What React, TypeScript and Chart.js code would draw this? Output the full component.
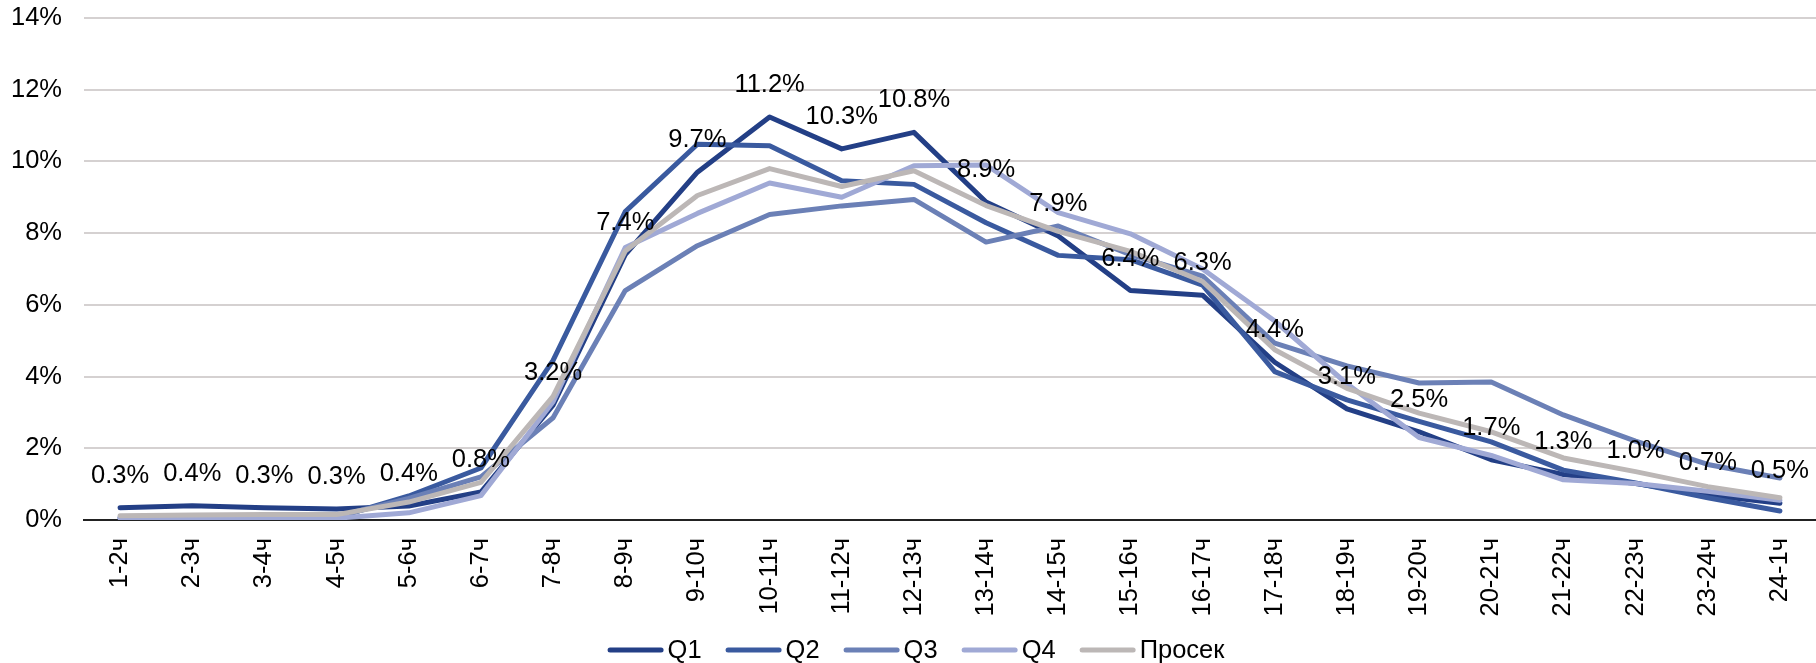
import React, { useEffect, useRef } from 'react';
import { Chart, registerables } from 'chart.js';

Chart.register(...registerables);

const categories = [
  '1-2ч', '2-3ч', '3-4ч', '4-5ч', '5-6ч', '6-7ч', '7-8ч', '8-9ч', '9-10ч', '10-11ч', '11-12ч', '12-13ч',
  '13-14ч', '14-15ч', '15-16ч', '16-17ч', '17-18ч', '18-19ч', '19-20ч', '20-21ч', '21-22ч', '22-23ч', '23-24ч', '24-1ч',
];

const seriesNames = ['Q1', 'Q2', 'Q3', 'Q4', 'Просек'];

const q1 = [0.34, 0.4, 0.34, 0.31, 0.39, 0.78, 3.2, 7.4, 9.7, 11.24, 10.35, 10.81, 8.87, 7.92, 6.4, 6.27, 4.4, 3.1, 2.46, 1.68, 1.27, 1.02, 0.7, 0.47];
const q2 = [0.05, 0.05, 0.08, 0.07, 0.67, 1.45, 4.45, 8.6, 10.48, 10.44, 9.46, 9.36, 8.29, 7.38, 7.26, 6.55, 4.14, 3.35, 2.75, 2.18, 1.39, 1.03, 0.62, 0.25];
const q3 = [0.08, 0.1, 0.12, 0.1, 0.6, 1.2, 2.85, 6.4, 7.65, 8.52, 8.76, 8.94, 7.75, 8.2, 7.4, 6.8, 4.93, 4.3, 3.82, 3.85, 2.93, 2.2, 1.55, 1.17];
const q4 = [0.05, 0.05, 0.08, 0.05, 0.2, 0.68, 3.3, 7.6, 8.55, 9.4, 9.0, 9.88, 9.9, 8.57, 7.98, 7.0, 5.55, 3.8, 2.3, 1.8, 1.12, 1.02, 0.8, 0.55];
const avg = [0.12, 0.14, 0.15, 0.15, 0.5, 1.05, 3.45, 7.5, 9.05, 9.8, 9.3, 9.74, 8.77, 8.05, 7.49, 6.65, 4.75, 3.67, 2.98, 2.46, 1.73, 1.35, 0.93, 0.62];

const seriesValues = [q1, q2, q3, q4, avg];
const seriesColors = ['#233f86', '#3a5a9f', '#6b80b6', '#a0a9d5', '#bcb7b6'];

const yMin = 0;
const yMax = 14;
const yStep = 2;

const FONT_FAMILY = "'Liberation Sans', Arial, sans-serif";
const FONT_SIZE = 25.5;

const q1LabelsPlugin = {
  id: 'q1Labels',
  afterDatasetsDraw(chart: any) {
    const meta = chart.getDatasetMeta(0);
    const ctx = chart.ctx;
    ctx.save();
    ctx.font = `${FONT_SIZE}px ${FONT_FAMILY}`;
    ctx.fillStyle = '#000';
    ctx.textAlign = 'center';
    ctx.textBaseline = 'middle';
    meta.data.forEach((pt: any, i: number) => {
      const v = q1[i];
      ctx.fillText(v.toFixed(1) + '%', pt.x, pt.y - 32);
    });
    ctx.restore();
  },
};

const lineLegendPlugin = {
  id: 'lineLegend',
  afterDraw(chart: any) {
    const ctx = chart.ctx;
    const lineLen = 56;
    const gapText = 4;
    const gapItem = 24;
    const cy = 650;
    ctx.save();
    ctx.font = `${FONT_SIZE}px ${FONT_FAMILY}`;
    const widths = seriesNames.map((s) => ctx.measureText(s).width);
    const total = widths.reduce((a, w) => a + lineLen + gapText + w, 0) + gapItem * (seriesNames.length - 1);
    let x = chart.width / 2 + 8 - total / 2;
    seriesNames.forEach((name, i) => {
      ctx.strokeStyle = seriesColors[i];
      ctx.lineWidth = 5;
      ctx.lineCap = 'round';
      ctx.beginPath();
      ctx.moveTo(x + 2.5, cy);
      ctx.lineTo(x + lineLen - 2.5, cy);
      ctx.stroke();
      x += lineLen + gapText;
      ctx.fillStyle = '#000';
      ctx.textAlign = 'left';
      ctx.textBaseline = 'middle';
      ctx.fillText(name, x, cy + 1);
      x += widths[i] + gapItem;
    });
    ctx.restore();
  },
};

export default function App() {
  const ref = useRef<HTMLCanvasElement>(null);

  useEffect(() => {
    if (!ref.current) return;
    const font = { family: FONT_FAMILY, size: FONT_SIZE };
    const n = seriesNames.length;
    const chart = new Chart(ref.current, {
      type: 'line',
      data: {
        labels: categories,
        datasets: seriesNames.map((name, i) => ({
          label: name,
          data: seriesValues[i],
          borderColor: seriesColors[i],
          backgroundColor: seriesColors[i],
          borderWidth: 5,
          borderJoinStyle: 'round' as const,
          borderCapStyle: 'round' as const,
          pointRadius: 0,
          pointHoverRadius: 0,
          tension: 0,
          fill: false,
          order: n - i,
        })),
      },
      options: {
        animation: false,
        responsive: true,
        maintainAspectRatio: false,
        layout: { padding: { top: 18, left: 0, right: 0, bottom: 0 } },
        plugins: {
          tooltip: { enabled: false },
          legend: { display: false },
        },
        scales: {
          x: {
            offset: true,
            grid: { display: false, drawTicks: false },
            border: { display: true, color: '#222', width: 2 },
            ticks: {
              font,
              color: '#000',
              minRotation: 90,
              maxRotation: 90,
              padding: 18,
              autoSkip: false,
            },
            afterFit: (scale: any) => {
              scale.height = 143;
              scale.paddingLeft = 0;
              scale.paddingRight = 0;
            },
          },
          y: {
            min: yMin,
            max: yMax,
            border: { display: false },
            grid: {
              color: (c: any) => (c.tick && c.tick.value === 0 ? 'rgba(0,0,0,0)' : '#d5d1d1'),
              lineWidth: 2,
              drawTicks: false,
            },
            ticks: {
              stepSize: yStep,
              font,
              color: '#000',
              padding: 22,
              callback: (v: any) => `${v}%`,
            },
            afterFit: (scale: any) => {
              scale.width = 84;
              scale.paddingTop = 0;
              scale.paddingBottom = 0;
            },
          },
        },
      },
      plugins: [q1LabelsPlugin, lineLegendPlugin],
    });
    return () => chart.destroy();
  }, []);

  return (
    <div style={{ position: 'fixed', left: 0, top: 0, width: 1816, height: 663, background: '#fff' }}>
      <canvas ref={ref} />
    </div>
  );
}
